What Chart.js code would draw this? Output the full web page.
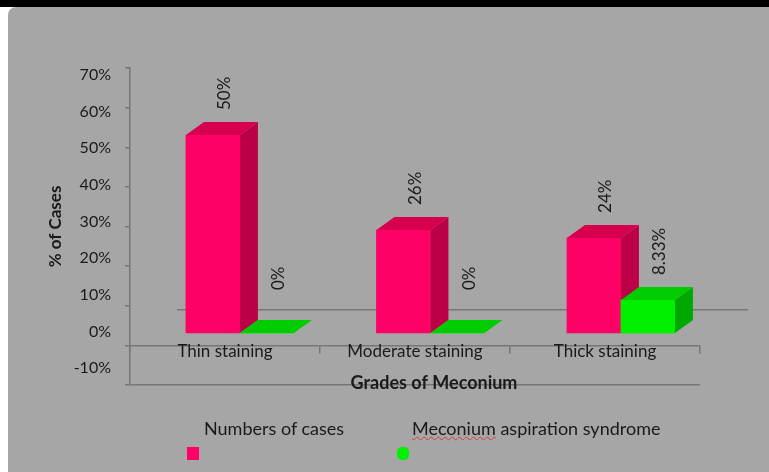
<!DOCTYPE html>
<html>
<head>
<meta charset="utf-8">
<title>Grades of Meconium</title>
<script src="https://cdn.jsdelivr.net/npm/chart.js@4.4.1/dist/chart.umd.min.js"></script>
<style>
    html, body { margin: 0; padding: 0; background: #fff; }
    body { width: 769px; height: 472px; position: relative; overflow: hidden; font-family: Lato, sans-serif; }
    #topbar { position: absolute; left: 0; top: 0; width: 769px; height: 7px; background: #000; }
    #panel { position: absolute; left: 8px; top: 7px; right: 0; bottom: 0; background: #a6a6a6; border-top-left-radius: 8px; }
    #chart { position: absolute; left: 0; top: 0; }
    .legend-text { position: absolute; top: 417px; font-size: 18px; line-height: 22px; color: #1a1a1a; white-space: nowrap; }
    .legend-mark { position: absolute; top: 447px; width: 12px; height: 13px; }
    .squiggle { text-decoration: underline wavy #d04040; text-decoration-thickness: 1px; }
</style>
</head>
<body>
<div id="topbar"></div>
<div id="panel"></div>
<canvas id="chart" width="769" height="472"></canvas>
<div class="legend-text" id="legend0" style="left:204px"></div>
<div class="legend-mark" style="left:187px; background:#ff0066"></div>
<div class="legend-text" id="legend1" style="left:412px"></div>
<div class="legend-mark" style="left:397px; background:#00f000; border-radius:5px"></div>
<script>
// Grades of meconium vs cases / meconium aspiration syndrome

const categories = ['Thin staining', 'Moderate staining', 'Thick staining'];
const numbersOfCases = [50, 26, 24];
const aspirationSyndrome = [0, 0, 8.33];
const seriesNames = ['Numbers of cases', 'Meconium aspiration syndrome'];
const yTickRange = [-10, 70];

const axisColor = '#767676';
const textColor = '#1a1a1a';
const fontFamily = 'Lato';

// colours for the fake 3D faces (front / top / side)
const barColors = [
    { front: '#ff0066', top: '#d6004f', side: '#bc0047' },
    { front: '#00f000', top: '#00cc00', side: '#00a800' }
];
const depth = { dx: 18, dy: 13 };

document.getElementById('legend0').textContent = seriesNames[0];
document.getElementById('legend1').innerHTML =
    '<span class="squiggle">Meconium</span>' + seriesNames[1].slice('Meconium'.length);

function drawFaces(ctx, bar, colors) {
    const { x, y, base, width } = bar.getProps(['x', 'y', 'base', 'width'], true);
    const l = x - width / 2;
    const r = x + width / 2;
    ctx.save();
    ctx.fillStyle = colors.side;
    ctx.beginPath();
    ctx.moveTo(r, y);
    ctx.lineTo(r + depth.dx, y - depth.dy);
    ctx.lineTo(r + depth.dx, base - depth.dy);
    ctx.lineTo(r, base);
    ctx.closePath();
    ctx.fill();
    ctx.fillStyle = colors.top;
    ctx.beginPath();
    ctx.moveTo(l, y);
    ctx.lineTo(l + depth.dx, y - depth.dy);
    ctx.lineTo(r + depth.dx, y - depth.dy);
    ctx.lineTo(r, y);
    ctx.closePath();
    ctx.fill();
    ctx.restore();
}

const bar3d = {
    id: 'bar3d',
    beforeDatasetsDraw(chart) {
        // back floor line of the 3D plot
        const { ctx, chartArea, scales } = chart;
        const yFloor = scales.y.getPixelForValue(9);
        ctx.save();
        ctx.strokeStyle = axisColor;
        ctx.lineWidth = 1.5;
        ctx.beginPath();
        ctx.moveTo(chartArea.left + 47, yFloor);
        ctx.lineTo(chartArea.right + 48, yFloor);
        ctx.stroke();
        ctx.restore();
    },
    afterDatasetsDraw(chart) {
        const { ctx, chartArea } = chart;

        // depth faces, series drawn left to right so green covers pink side
        chart.data.datasets.forEach((ds, i) => {
            const meta = chart.getDatasetMeta(i);
            meta.data.forEach(bar => {
                if (i > 0) bar.draw(ctx);
                drawFaces(ctx, bar, barColors[i]);
            });
        });

        // rotated value labels
        ctx.save();
        ctx.fillStyle = textColor;
        ctx.font = '17px ' + fontFamily;
        ctx.textAlign = 'left';
        ctx.textBaseline = 'middle';
        chart.data.datasets.forEach((ds, i) => {
            const meta = chart.getDatasetMeta(i);
            meta.data.forEach((bar, j) => {
                const v = ds.data[j].y;
                const gap = v === 0 ? 43 : 25;
                ctx.save();
                ctx.translate(bar.x + 12, bar.y - gap);
                ctx.rotate(-Math.PI / 2);
                ctx.fillText(v + '%', 0, 0);
                ctx.restore();
            });
        });

        // x axis title sitting on the bottom line
        ctx.font = 'bold 18px ' + fontFamily;
        ctx.textAlign = 'center';
        ctx.fillText('Grades of Meconium', (chartArea.left + chartArea.right) / 2 + 19, chartArea.bottom - 2);
        ctx.restore();
    }
};

const ctx = document.getElementById('chart').getContext('2d');

new Chart(ctx, {
    type: 'bar',
    data: {
        labels: categories,
        datasets: [
            {
                label: seriesNames[0],
                data: numbersOfCases.map((v, i) => ({ x: i, y: v })),
                backgroundColor: barColors[0].front,
                xAxisID: 'xb',
                yAxisID: 'yb',
                barThickness: 54
            },
            {
                label: seriesNames[1],
                data: aspirationSyndrome.map((v, i) => ({ x: i, y: v })),
                backgroundColor: barColors[1].front,
                xAxisID: 'xb',
                yAxisID: 'yb',
                barThickness: 54
            }
        ]
    },
    options: {
        responsive: false,
        animation: false,
        layout: { padding: { left: 0, top: 68, right: 69, bottom: 87 } },
        plugins: {
            legend: { display: false },
            tooltip: { enabled: false }
        },
        scales: {
            x: {
                type: 'category',
                labels: categories,
                position: { y: 0 },
                offset: true,
                grid: { offset: true, drawOnChartArea: false, tickLength: 7, color: axisColor, lineWidth: 1.5 },
                border: { color: axisColor, width: 1.5 },
                ticks: {
                    color: textColor,
                    font: { family: fontFamily, size: 17 },
                    padding: -11,
                    maxRotation: 0,
                    autoSkip: false
                }
            },
            xb: { type: 'linear', display: false, offset: false, min: -0.577, max: 2.415 },
            y: {
                type: 'linear',
                position: 'left',
                weight: 0,
                min: yTickRange[0],
                max: yTickRange[1],
                ticks: { display: false, stepSize: 10 },
                grid: {
                    color: c => (c.tick && c.tick.value === yTickRange[0] ? axisColor : 'transparent'),
                    tickColor: axisColor,
                    tickLength: 5,
                    lineWidth: 1.5
                },
                border: { color: axisColor, width: 1.5 },
                afterFit: s => { s.width = 6; }
            },
            yl: {
                type: 'linear',
                position: 'left',
                weight: 1,
                min: -14.55,
                max: 71.88,
                ticks: {
                    stepSize: 10,
                    includeBounds: false,
                    padding: 5,
                    color: textColor,
                    font: { family: fontFamily, size: 16 },
                    callback: v => v + '%'
                },
                grid: { display: false },
                border: { display: false },
                title: {
                    display: true,
                    text: '% of Cases',
                    color: textColor,
                    font: { family: fontFamily, size: 17, weight: 'bold' },
                    padding: { top: 45, bottom: 0 }
                },
                afterFit: s => { s.width = 124; }
            },
            yb: { type: 'linear', display: false, min: -13.13, max: 66.92 }
        }
    },
    plugins: [bar3d]
});
</script>
</body>
</html>
